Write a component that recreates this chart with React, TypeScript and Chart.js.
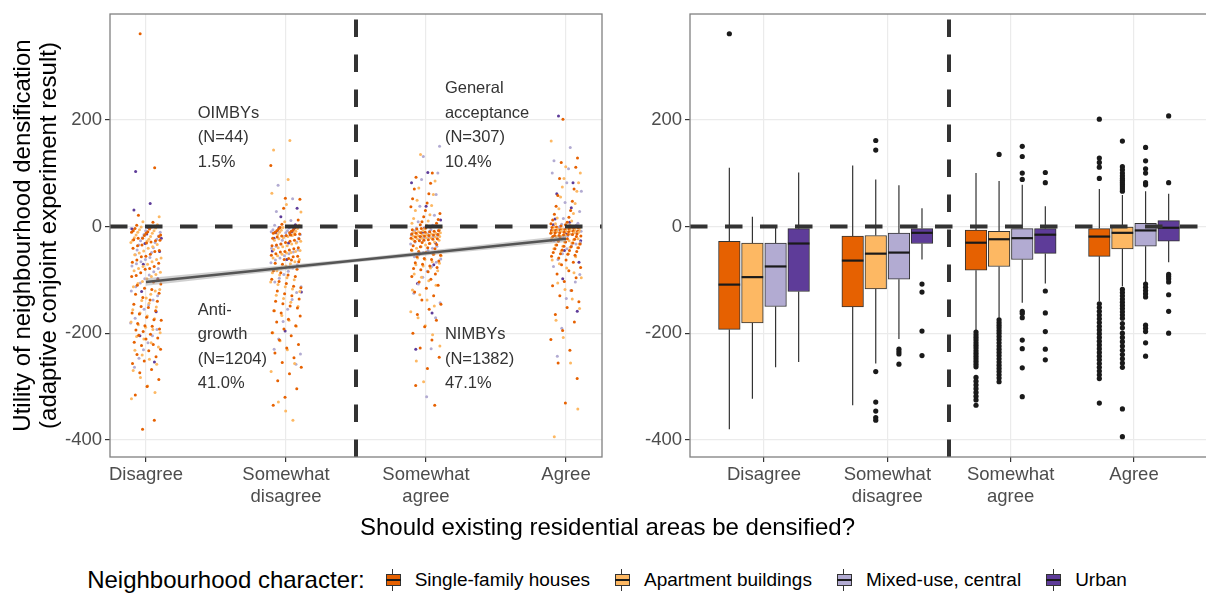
import React, { useEffect, useRef } from 'react';
import { Chart, registerables } from 'chart.js';

Chart.register(...registerables);

const FONT = "'Liberation Sans', Arial, Helvetica, sans-serif";

const categories = ['Disagree', 'Somewhat disagree', 'Somewhat agree', 'Agree'];
const categoryTickLabels = [['Disagree'], ['Somewhat', 'disagree'], ['Somewhat', 'agree'], ['Agree']];
const neighbourhoodTypes = ['Single-family houses', 'Apartment buildings', 'Mixed-use, central', 'Urban'];
const typeColors = ['#E66101', '#FDB863', '#B2ABD2', '#5E3C99'];
const yTicks = [-400, -200, 0, 200];
const xTicks = [1, 2, 3, 4];
const yRange = [-432, 398];
const leftXRange = [0.743, 4.257];
const rightXRange = [0.4, 4.6];
const referenceY = 0;
const referenceX = 2.5;

// Individual utilities (left panel), per answer category
const singleFamilyUtility = [
  [361, 110, 21, 8, 2, -1, -4, -5, -8, -10, -11, -13, -16, -17, -19, -22, -22, -25, -26, -27, -29,
   -31, -35, -36, -41, -45, -47, -52, -56, -57, -63, -67, -69, -75, -79, -80, -87, -92, -94, -100, -104, -108,
   -110, -116, -118, -125, -127, -133, -138, -140, -146, -150, -152, -158, -162, -164, -170, -175, -176, -182, -186, -187, -192,
   -194, -197, -202, -204, -209, -211, -217, -221, -223, -230, -233, -240, -244, -252, -257, -268, -274, -287, -300, -316, -363, -380],
  [114, 53, 51, 34, 12, 4, 1, -2, -3, -5, -7, -8, -9, -11, -12, -13, -14, -15, -16, -17, -18,
   -20, -22, -23, -26, -28, -30, -33, -35, -36, -40, -42, -44, -47, -48, -51, -54, -56, -57, -60, -62, -63,
   -66, -69, -71, -76, -80, -83, -87, -91, -94, -99, -103, -107, -112, -115, -121, -126, -130, -136, -140, -145, -149,
   -153, -158, -162, -168, -174, -179, -186, -192, -199, -205, -213, -221, -228, -237, -246, -255, -264, -276, -289, -304, -320, -335],
  [100, 92, 81, 70, 61, 52, 44, 37, 30, 24, 18, 13, 9, 6, 3, 1, -1, -3, -4, -5, -6,
   -8, -9, -10, -11, -12, -13, -14, -15, -16, -17, -18, -19, -20, -22, -23, -24, -25, -26, -27, -28, -30,
   -32, -34, -36, -38, -40, -42, -44, -47, -49, -52, -54, -57, -60, -62, -65, -68, -71, -74, -77, -79, -81,
   -85, -89, -94, -99, -104, -110, -116, -123, -130, -138, -146, -155, -165, -176, -188, -200, -213, -228, -245, -266, -298, -335],
  [201, 128, 120, 111, 90, 70, 58, 47, 38, 30, 23, 17, 12, 8, 5, 3, 1, -1, -2, -3, -4,
   -5, -6, -6, -7, -8, -9, -9, -10, -11, -12, -12, -13, -14, -15, -15, -16, -17, -17, -18, -19, -19,
   -21, -23, -24, -26, -28, -29, -31, -33, -35, -37, -38, -40, -42, -44, -45, -47, -49, -51, -52, -54, -56,
   -59, -63, -67, -72, -77, -83, -89, -96, -103, -111, -120, -130, -141, -152, -165, -179, -195, -212, -232, -256, -285, -331],
];
const apartmentUtility = [
  [18, 9, 3, -1, -3, -6, -8, -11, -13, -16, -19, -21, -24, -26, -28, -30,
   -34, -38, -41, -46, -50, -53, -59, -62, -66, -71, -75, -79, -83, -86, -90, -94,
   -98, -103, -107, -113, -118, -121, -127, -134, -139, -144, -151, -156, -162, -168, -173, -179,
   -184, -189, -193, -199, -206, -211, -218, -226, -232, -241, -249, -258, -270, -283, -299, -311, -323],
  [161, 143, 88, 62, 41, 27, 9, 2, -2, -4, -7, -9, -11, -13, -15, -17,
   -19, -21, -23, -26, -28, -31, -33, -36, -38, -40, -43, -45, -47, -49, -50, -52,
   -55, -59, -62, -66, -70, -74, -78, -83, -87, -91, -96, -100, -104, -109, -113, -117,
   -122, -129, -135, -142, -150, -158, -167, -176, -187, -199, -214, -231, -257, -272, -329, -346, -363],
  [135, 85, 72, 60, 49, 39, 30, 22, 15, 10, 6, 2, -1, -4, -6, -8,
   -10, -11, -12, -13, -14, -15, -16, -17, -18, -19, -20, -21, -21, -22, -23, -24,
   -26, -29, -32, -35, -38, -41, -45, -48, -52, -55, -59, -62, -66, -69, -72, -74,
   -78, -83, -89, -95, -102, -110, -119, -128, -138, -149, -160, -171, -186, -203, -224, -252, -291],
  [160, 112, 100, 90, 82, 74, 66, 55, 43, 33, 24, 16, 10, 5, 2, -1,
   -2, -3, -3, -4, -5, -5, -6, -7, -7, -8, -9, -9, -10, -11, -11, -12,
   -14, -16, -18, -19, -21, -23, -25, -27, -29, -31, -33, -35, -37, -39, -40, -42,
   -46, -51, -57, -63, -70, -78, -87, -96, -106, -118, -136, -154, -176, -208, -256, -342, -394],
];
const mixedUseUtility = [
  [-1, -4, -8, -11, -15, -18, -21, -24, -27, -30, -35, -40, -44, -49, -53, -58, -62, -66, -70, -74,
   -79, -85, -91, -98, -106, -113, -121, -130, -138, -147, -155, -163, -172, -181, -193, -205, -218, -231, -247, -264],
  [77, 52, 28, 11, 2, -3, -6, -8, -10, -12, -15, -19, -22, -26, -29, -33, -37, -41, -44, -48,
   -51, -55, -59, -63, -68, -72, -78, -84, -90, -97, -104, -113, -124, -137, -155, -178, -211, -230, -239, -258],
  [150, 131, 100, 88, 60, 38, 21, 9, 2, -3, -6, -8, -10, -12, -14, -16, -17, -19, -20, -22,
   -25, -29, -33, -37, -41, -45, -49, -53, -57, -61, -67, -75, -84, -95, -108, -125, -143, -171, -229, -319],
  [148, 123, 108, 100, 82, 66, 45, 28, 15, 6, 4, 2, 0, -1, -2, -3, -4, -5, -6, -7,
   -9, -12, -15, -18, -21, -24, -27, -30, -33, -36, -42, -51, -62, -75, -90, -104, -120, -135, -191, -243],
];
const urbanUtility = [
  [103, 43, 31, -2, -5, -14, -22, -32, -47, -71, -98, -122, -160, -205, -254],
  [34, 18, 3, -2, -5, -8, -10, -12, -15, -22, -31, -46, -62, -123, -196],
  [101, 82, 38, 12, -3, -7, -11, -15, -20, -31, -50, -72, -107, -162, -230],
  [207, 82, 61, 35, 14, 8, 3, -2, -7, -14, -27, -45, -67, -98, -159],
];

// Linear trend and its confidence band
const trendX = [1, 4];
const trendY = [-104, -23];
const bandX = [1, 2.5, 4];
const bandUpper = [-97, -60, -17];
const bandLower = [-111, -67, -29];

// Group annotations
const annotationLines = [
  ['OIMBYs', '(N=44)', '1.5%'],
  ['General', 'acceptance', '(N=307)', '10.4%'],
  ['Anti-', 'growth', '(N=1204)', '41.0%'],
  ['NIMBYs', '(N=1382)', '47.1%'],
];
const annotationX = [1.37, 3.135, 1.37, 3.135];
const annotationY = [120, 120, -295, -295];

// Box plot statistics (right panel): [type][category]
const boxLowerWhisker = [
  [-380, -335, -194, -140],
  [-323, -257, -171, -112],
  [-264, -211, -143, -104],
  [-254, -62, -107, -67],
];
const boxQ1 = [
  [-193, -151, -82, -56],
  [-181, -117, -75, -42],
  [-150, -99, -62, -37],
  [-122, -32, -50.5, -27.5],
];
const boxMedian = [
  [-109, -64, -30.5, -19],
  [-95, -51, -24, -12],
  [-75, -49, -22, -7.5],
  [-32, -12, -15.5, -2.5],
];
const boxQ3 = [
  [-28, -18, -7, -4],
  [-31, -17, -9, -1],
  [-31, -12.5, -4, 5.6],
  [-4, -4, -4, 11],
];
const boxUpperWhisker = [
  [110, 114, 100, 70],
  [18, 88, 85, 59],
  [-1, 77, 78, 66],
  [101, 34, 38, 61],
];
const boxOutliers = [
  [
    [361],
    [],
    [-198, -203, -208, -213, -218, -223, -228, -233, -238, -243, -248, -253, -258, -263, -283, -290, -297, -304, -311, -318, -325, -335],
    [201, 128, 120, 111, 90, -145, -152, -159, -166, -173, -180, -187, -194, -201, -208, -215, -222, -229, -236, -243, -250, -257, -264, -271, -278, -285, -331],
  ],
  [
    [],
    [161, 143, -272, -329, -346, -358, -363],
    [135, -175, -180, -185, -190, -195, -200, -206, -212, -218, -224, -230, -236, -242, -248, -254, -260, -266, -272, -278, -284, -291],
    [160, 112, 106, 100, 95, 90, 86, 82, 78, 74, 70, 66, -118, -124, -130, -136, -142, -148, -154, -160, -166, -172, -182, -190, -200, -208, -216, -224, -232, -240, -248, -256, -264, -342, -394],
  ],
  [
    [],
    [-230, -235, -239, -258],
    [150, 131, 100, 88, -159, -163, -171, -213, -229, -265, -319],
    [148, 123, 108, 100, 82, 78, -108, -114, -120, -126, -132, -185, -191, -197, -218, -243],
  ],
  [
    [],
    [-108, -123, -196, -242],
    [101, 82, -121, -162, -197, -230, -250],
    [207, 82, -90, -94, -98, -104, -128, -159, -200],
  ],
];

const BOX_OFFSETS = [-0.281, -0.094, 0.094, 0.281];
const BOX_WIDTH_PX = 21.6;
const JITTER = 0.22;

const tickFont = { family: FONT, size: 18.5, lineHeight: 1.19 };

function makeYScale(width: number, withTitle: boolean) {
  return {
    type: 'linear',
    min: yRange[0],
    max: yRange[1],
    afterBuildTicks: (s: any) => {
      s.ticks = yTicks.map((v) => ({ value: v }));
    },
    afterFit: (s: any) => {
      s.width = width;
    },
    ticks: { callback: (v: any) => String(v), font: tickFont, color: '#4d4d4d', padding: 3 },
    grid: { color: '#EBEBEB', lineWidth: 1.2, tickColor: '#333', tickLength: 5 },
    border: { display: false },
    title: withTitle
      ? {
          display: true,
          text: ['Utility of neighbourhood densification', '(adaptive conjoint experiment result)'],
          font: { family: FONT, size: 24, lineHeight: 1.12 },
          color: '#000',
          padding: { top: 9.5, bottom: 0 },
        }
      : { display: false },
  };
}

function makeXScale(range: number[], height: number) {
  return {
    type: 'linear',
    min: range[0],
    max: range[1],
    offset: false,
    afterBuildTicks: (s: any) => {
      s.ticks = xTicks.map((v) => ({ value: v }));
    },
    afterFit: (s: any) => {
      s.height = height;
    },
    ticks: {
      callback: (v: any) => categoryTickLabels[Math.round(v) - 1],
      font: tickFont,
      color: '#4d4d4d',
      padding: 2,
      maxRotation: 0,
      autoSkip: false,
    },
    grid: { color: '#EBEBEB', lineWidth: 1.2, tickColor: '#333', tickLength: 5, offset: false },
    border: { display: false },
  };
}

const referenceLines = {
  id: 'referenceLines',
  afterDatasetsDraw(chart: any) {
    const { ctx, chartArea: a, scales } = chart;
    ctx.save();
    ctx.beginPath();
    ctx.rect(a.left, a.top, a.right - a.left, a.bottom - a.top);
    ctx.clip();
    ctx.strokeStyle = '#333';
    ctx.lineWidth = 4;
    ctx.lineCap = 'butt';
    ctx.setLineDash([17.5, 17.5]);
    const y0 = scales.y.getPixelForValue(referenceY);
    ctx.beginPath();
    ctx.moveTo(a.left, y0);
    ctx.lineTo(a.right, y0);
    ctx.stroke();
    const xv = scales.x.getPixelForValue(referenceX);
    ctx.beginPath();
    ctx.moveTo(xv, a.bottom);
    ctx.lineTo(xv, a.top);
    ctx.stroke();
    ctx.restore();
  },
};

const panelBorder = {
  id: 'panelBorder',
  afterDraw(chart: any) {
    const { ctx, chartArea: a } = chart;
    ctx.save();
    ctx.strokeStyle = '#808080';
    ctx.lineWidth = 1.3;
    ctx.strokeRect(a.left, a.top, a.right - a.left, a.bottom - a.top);
    ctx.restore();
  },
};

const groupAnnotations = {
  id: 'groupAnnotations',
  afterDatasetsDraw(chart: any) {
    const { ctx, scales } = chart;
    ctx.save();
    ctx.font = `16.5px ${FONT}`;
    ctx.fillStyle = '#333';
    ctx.textAlign = 'left';
    ctx.textBaseline = 'middle';
    annotationLines.forEach((lines, i) => {
      const x = scales.x.getPixelForValue(annotationX[i]);
      const yLast = scales.y.getPixelForValue(annotationY[i]);
      lines.forEach((line, j) => {
        ctx.fillText(line, x, yLast - (lines.length - 1 - j) * 24.5);
      });
    });
    ctx.restore();
  },
};

const boxWhiskers = {
  id: 'boxWhiskers',
  beforeDatasetsDraw(chart: any) {
    const { ctx, scales } = chart;
    ctx.save();
    ctx.strokeStyle = '#333';
    ctx.lineWidth = 1.2;
    for (let t = 0; t < neighbourhoodTypes.length; t++) {
      for (let c = 0; c < categories.length; c++) {
        const x = scales.x.getPixelForValue(c + 1 + BOX_OFFSETS[t]);
        ctx.beginPath();
        ctx.moveTo(x, scales.y.getPixelForValue(boxQ3[t][c]));
        ctx.lineTo(x, scales.y.getPixelForValue(boxUpperWhisker[t][c]));
        ctx.moveTo(x, scales.y.getPixelForValue(boxQ1[t][c]));
        ctx.lineTo(x, scales.y.getPixelForValue(boxLowerWhisker[t][c]));
        ctx.stroke();
      }
    }
    ctx.restore();
  },
  afterDatasetsDraw(chart: any) {
    const { ctx, scales } = chart;
    ctx.save();
    ctx.strokeStyle = '#1a1a1a';
    ctx.lineWidth = 2.2;
    for (let t = 0; t < neighbourhoodTypes.length; t++) {
      for (let c = 0; c < categories.length; c++) {
        const x = scales.x.getPixelForValue(c + 1 + BOX_OFFSETS[t]);
        const y = scales.y.getPixelForValue(boxMedian[t][c]);
        ctx.beginPath();
        ctx.moveTo(x - BOX_WIDTH_PX / 2, y);
        ctx.lineTo(x + BOX_WIDTH_PX / 2, y);
        ctx.stroke();
      }
    }
    ctx.restore();
  },
};

function LegendKey({ color }: { color: string }) {
  return (
    <span style={{ position: 'relative', display: 'inline-block', width: 18, height: 22, marginRight: 13 }}>
      <span style={{ position: 'absolute', left: 8.5, top: 0, width: 1, height: 22, background: '#333' }} />
      <span
        style={{
          position: 'absolute',
          left: 2,
          top: 5,
          width: 15,
          height: 12,
          boxSizing: 'border-box',
          border: '1px solid #333',
          background: color,
        }}
      />
      <span style={{ position: 'absolute', left: 2, top: 10, width: 15, height: 2, background: '#1a1a1a' }} />
    </span>
  );
}

export default function App() {
  const leftRef = useRef<HTMLCanvasElement>(null);
  const rightRef = useRef<HTMLCanvasElement>(null);

  useEffect(() => {
    const charts: Chart[] = [];
    const typeLists = [singleFamilyUtility, apartmentUtility, mixedUseUtility, urbanUtility];

    // Left panel: jittered individual utilities
    const scatterData: { x: number; y: number }[] = [];
    const scatterColors: string[] = [];
    let k = 0;
    categories.forEach((_, c) => {
      const lists = typeLists.map((l) => l[c]);
      const maxLen = Math.max(...lists.map((l) => l.length));
      for (let i = 0; i < maxLen; i++) {
        for (let t = 0; t < lists.length; t++) {
          if (i < lists[t].length) {
            const jitter = (((k * 0.6180339887 + 0.31) % 1) - 0.5) * JITTER;
            k++;
            scatterData.push({ x: c + 1 + jitter, y: lists[t][i] });
            scatterColors.push(typeColors[t]);
          }
        }
      }
    });

    if (leftRef.current) {
      charts.push(
        new Chart(leftRef.current, {
          type: 'scatter',
          data: {
            datasets: [
              {
                type: 'line',
                data: trendX.map((x, i) => ({ x, y: trendY[i] })),
                borderColor: '#555',
                borderWidth: 2.5,
                pointRadius: 0,
                fill: false,
                order: 0,
              } as any,
              {
                type: 'line',
                data: bandX.map((x, i) => ({ x, y: bandUpper[i] })),
                borderColor: 'rgba(0,0,0,0)',
                pointRadius: 0,
                fill: false,
                order: 1,
              },
              {
                type: 'line',
                data: bandX.map((x, i) => ({ x, y: bandLower[i] })),
                borderColor: 'rgba(0,0,0,0)',
                backgroundColor: 'rgba(150,150,150,0.45)',
                pointRadius: 0,
                fill: '-1',
                order: 1,
              },
              {
                type: 'scatter',
                data: scatterData,
                pointBackgroundColor: scatterColors,
                pointBorderWidth: 0,
                pointRadius: 1.5,
                order: 2,
              },
            ],
          },
          options: {
            animation: false,
            responsive: false,
            events: [],
            layout: { padding: { left: 0, right: 10, top: 13, bottom: 0 } },
            plugins: { legend: { display: false }, tooltip: { enabled: false } },
            scales: {
              x: makeXScale(leftXRange, 58) as any,
              y: makeYScale(110, true) as any,
            },
          },
          plugins: [groupAnnotations, referenceLines, panelBorder],
        } as any)
      );
    }

    // Right panel: box plots by neighbourhood character
    if (rightRef.current) {
      const barSets = neighbourhoodTypes.map((name, t) => ({
        type: 'bar',
        label: name,
        data: categories.map((_, c) => ({ x: c + 1 + BOX_OFFSETS[t], y: [boxQ1[t][c], boxQ3[t][c]] })),
        backgroundColor: typeColors[t],
        borderColor: '#333',
        borderWidth: 1,
        borderSkipped: false,
        barThickness: BOX_WIDTH_PX,
        grouped: false,
        order: 1,
      }));
      const outlierData: { x: number; y: number }[] = [];
      boxOutliers.forEach((perCat, t) =>
        perCat.forEach((vals, c) => vals.forEach((v) => outlierData.push({ x: c + 1 + BOX_OFFSETS[t], y: v })))
      );
      charts.push(
        new Chart(rightRef.current, {
          type: 'bar',
          data: {
            datasets: [
              ...barSets,
              {
                type: 'scatter',
                label: 'outliers',
                data: outlierData,
                pointBackgroundColor: '#1a1a1a',
                pointBorderWidth: 0,
                pointRadius: 2.6,
                order: 0,
              },
            ],
          },
          options: {
            animation: false,
            responsive: false,
            events: [],
            layout: { padding: { left: 0, right: 4, top: 13, bottom: 0 } },
            plugins: { legend: { display: false }, tooltip: { enabled: false } },
            scales: {
              x: makeXScale(rightXRange, 58) as any,
              y: makeYScale(78, false) as any,
            },
          },
          plugins: [boxWhiskers, referenceLines, panelBorder],
        } as any)
      );
    }

    return () => charts.forEach((c) => c.destroy());
  }, []);

  return (
    <div
      style={{
        position: 'fixed',
        left: 0,
        top: 0,
        width: 1206,
        height: 594,
        background: '#fff',
        overflow: 'hidden',
        fontFamily: FONT,
      }}
    >
      <canvas ref={leftRef} width={612} height={515} style={{ position: 'absolute', left: 0, top: 0, width: 612, height: 515 }} />
      <canvas ref={rightRef} width={600} height={515} style={{ position: 'absolute', left: 612, top: 0, width: 600, height: 515 }} />
      <div
        style={{
          position: 'absolute',
          left: 0,
          top: 513,
          width: 1215,
          textAlign: 'center',
          fontSize: 24,
          lineHeight: '28px',
          color: '#000',
        }}
      >
        Should existing residential areas be densified?
      </div>
      <div
        style={{
          position: 'absolute',
          left: 0,
          top: 566,
          width: 1214,
          height: 28,
          display: 'flex',
          justifyContent: 'center',
          alignItems: 'center',
          fontSize: 19,
          color: '#000',
        }}
      >
        <span style={{ fontSize: 24, marginRight: 19 }}>Neighbourhood character:</span>
        {neighbourhoodTypes.map((name, t) => (
          <span
            key={name}
            style={{ display: 'flex', alignItems: 'center', marginRight: t < neighbourhoodTypes.length - 1 ? 23 : 0 }}
          >
            <LegendKey color={typeColors[t]} />
            <span>{name}</span>
          </span>
        ))}
      </div>
    </div>
  );
}
